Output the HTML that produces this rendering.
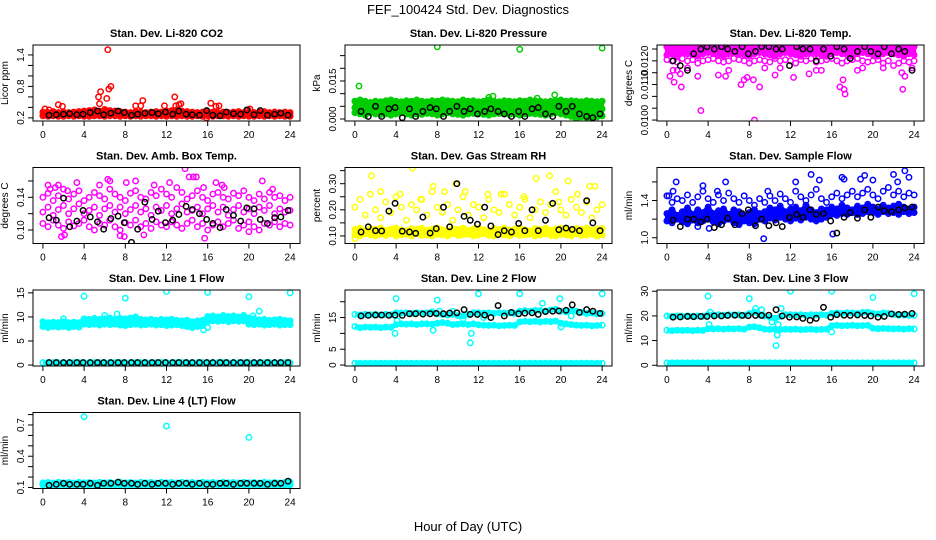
<!DOCTYPE html>
<html><head><meta charset="utf-8"><title>FEF_100424 Std. Dev. Diagnostics</title>
<style>
html,body{margin:0;padding:0;background:#fff;}
svg{display:block;font-family:"Liberation Sans",Arial,sans-serif;}
</style></head>
<body>
<svg id="chart" width="936" height="540" viewBox="0 0 936 540" xmlns="http://www.w3.org/2000/svg">
<rect x="0" y="0" width="936" height="540" fill="#fff"/>
<text x="468" y="14" font-size="13" text-anchor="middle">FEF_100424  Std. Dev. Diagnostics</text>
<text x="468" y="531" font-size="13" text-anchor="middle">Hour of Day (UTC)</text>
<g id="plots"></g>
</svg>
<script>
// ---------- shared ----------
const xTicks = [0,4,8,12,16,20,24];
const blackHours = [0.6,1.3,2.0,2.6,3.3,3.9,4.6,5.3,5.9,6.6,7.3,7.9,8.6,9.2,9.9,10.6,11.2,11.9,12.6,13.2,13.9,14.5,15.2,15.9,16.5,17.2,17.8,18.5,19.2,19.8,20.5,21.1,21.8,22.5,23.1,23.8];

// ---------- CO2 ----------
const co2Lo = [0.24,0.23,0.24,0.23,0.23,0.24,0.23,0.24,0.23,0.23,0.24,0.24,0.23,0.24,0.24,0.23,0.24,0.23,0.24,0.23,0.24,0.24,0.23,0.24,0.23,0.24,0.23,0.24,0.23,0.23,0.24,0.23,0.24,0.23,0.24,0.24,0.23,0.24,0.23,0.24,0.23,0.23,0.24,0.23,0.24,0.23,0.24,0.23,0.23];
const co2Hi = [0.31,0.30,0.32,0.30,0.31,0.30,0.31,0.32,0.33,0.34,0.35,0.33,0.36,0.34,0.33,0.32,0.31,0.30,0.32,0.31,0.30,0.31,0.32,0.31,0.33,0.34,0.35,0.33,0.32,0.31,0.30,0.31,0.32,0.31,0.30,0.31,0.30,0.31,0.32,0.30,0.31,0.30,0.31,0.32,0.30,0.31,0.30,0.31,0.30];
const co2OutH = [0.2,0.6,1.5,1.9,5.4,5.5,5.6,6.2,6.3,6.4,6.6,9.0,9.5,9.7,11.8,12.8,12.9,13.2,13.4,15.9,16.3,16.8,17.1,19.9,20.1];
const co2OutV = [0.37,0.35,0.45,0.42,0.60,0.47,0.70,0.57,1.50,0.75,0.80,0.43,0.43,0.53,0.43,0.60,0.43,0.45,0.47,0.20,0.48,0.42,0.43,0.35,0.37];
const co2Black = [0.25,0.26,0.27,0.28,0.26,0.27,0.30,0.33,0.26,0.29,0.33,0.30,0.25,0.27,0.29,0.30,0.28,0.31,0.27,0.33,0.27,0.26,0.25,0.34,0.25,0.24,0.31,0.28,0.27,0.35,0.26,0.34,0.25,0.27,0.29,0.25];
const co2Ticks = [0.2,0.4,0.6,0.8,1.0,1.2,1.4];
const co2Labels = ["0.2","","","0.8","","","1.4"];

// ---------- Pressure ----------
const prsLo = [0.0025,0.002,0.0015,0.0025,0.002,0.0018,0.002,0.0015,0.002,0.0025,0.002,0.0015,0.002,0.0018,0.0022,0.002,0.0015,0.002,0.0025,0.002,0.0018,0.0015,0.002,0.0022,0.002,0.0018,0.0015,0.002,0.0022,0.002,0.0018,0.002,0.0015,0.002,0.0022,0.002,0.0018,0.0015,0.002,0.0025,0.002,0.0015,0.001,0.0005,0.0008,0.0005,0.001,0.0008,0.0012];
const prsMid = [0.0045,0.005,0.0045,0.004,0.0048,0.0045,0.005,0.0042,0.0045,0.005,0.0048,0.0042,0.0045,0.005,0.0045,0.004,0.0048,0.0045,0.005,0.0045,0.0042,0.0045,0.0048,0.005,0.0045,0.004,0.0045,0.0048,0.0045,0.005,0.0042,0.0045,0.0048,0.0045,0.004,0.0045,0.005,0.0045,0.0042,0.0048,0.0045,0.0042,0.004,0.0038,0.0035,0.004,0.0038,0.0042,0.004];
const prsHi = [0.007,0.0075,0.007,0.0065,0.007,0.0068,0.0072,0.0075,0.007,0.0068,0.0072,0.007,0.0075,0.007,0.0068,0.0072,0.007,0.0075,0.0072,0.007,0.0068,0.0075,0.007,0.0072,0.0068,0.007,0.0075,0.007,0.0068,0.0072,0.007,0.0068,0.0072,0.007,0.0075,0.0072,0.007,0.0068,0.007,0.0072,0.0075,0.007,0.0072,0.007,0.0068,0.0072,0.007,0.0068,0.007];
const prsOutH = [0.4,8.0,13.0,16.0,19.4,24.0,22.5,21.5,23.0,17.7,13.4];
const prsOutV = [0.013,0.0285,0.0085,0.0275,0.0095,0.028,0.001,-0.0005,0.0005,0.0082,0.009];
const prsBlack = [0.003,0.001,0.005,0.001,0.004,0.0045,0.0005,0.004,0.001,0.003,0.0045,0.004,0.001,0.003,0.005,0.003,0.004,0.002,0.003,0.004,0.003,0.002,0.001,0.003,0.001,0.004,0.0045,0.002,0.001,0.005,0.003,0.005,0.002,0.001,0.0005,0.002];
const prsTicks = [0.000,0.005,0.010,0.015,0.020,0.025];
const prsLabels = ["0.000","","","0.015","",""];

// ---------- Li-820 Temp ----------
const tmpLo = [0.01255,0.0125,0.01245,0.0126,0.0125,0.01255,0.0124,0.0125,0.01255,0.0126,0.0125,0.01245,0.0125,0.0126,0.01255,0.0125,0.0124,0.0125,0.01255,0.0125,0.01245,0.0126,0.0125,0.01255,0.0125,0.0124,0.01255,0.0125,0.0126,0.01245,0.0125,0.01255,0.0126,0.0125,0.0124,0.0125,0.01255,0.0126,0.0125,0.01245,0.0125,0.01255,0.0124,0.0125,0.0123,0.0124,0.0125,0.01245,0.0125];
const tmpMid = [0.01275,0.0128,0.0127,0.01285,0.0128,0.01275,0.0127,0.0128,0.01285,0.0128,0.01275,0.0127,0.0128,0.01285,0.0128,0.01275,0.0127,0.0128,0.01285,0.0128,0.01275,0.0127,0.0128,0.01285,0.0128,0.01275,0.0127,0.0128,0.01285,0.0128,0.01275,0.0127,0.0128,0.01285,0.0128,0.01275,0.0127,0.0128,0.01285,0.0128,0.01275,0.0127,0.0128,0.01285,0.0128,0.01275,0.0127,0.0128,0.01275];
const tmpHi = [0.0131,0.01305,0.0131,0.0131,0.01305,0.0131,0.0131,0.01305,0.0131,0.0131,0.01305,0.0131,0.0131,0.01305,0.0131,0.0131,0.01305,0.0131,0.0131,0.01305,0.0131,0.0131,0.01305,0.0131,0.0131,0.01305,0.0131,0.0131,0.01305,0.0131,0.0131,0.01305,0.0131,0.0131,0.01305,0.0131,0.0131,0.01305,0.0131,0.0131,0.01305,0.0131,0.0131,0.01305,0.0131,0.0131,0.01305,0.0131,0.0131];
const tmpOutH = [0.3,0.6,0.7,1.0,1.3,1.4,3.3,3.0,5.0,5.7,7.2,7.5,7.8,8.5,8.4,9.0,9.5,10.5,12.3,13.8,14.5,16.8,17.1,17.3,17.2,18.5,21.0,22.8,22.9,23.1,23.8,2.0,6.0,11.0,15.0,19.0];
const tmpOutV = [0.01185,0.0121,0.0116,0.0121,0.01195,0.0114,0.0104,0.01185,0.0119,0.01185,0.0115,0.0117,0.0118,0.0100,0.0117,0.0114,0.0122,0.0119,0.0118,0.01195,0.0121,0.0114,0.0117,0.0111,0.0113,0.0121,0.0122,0.0120,0.0113,0.01185,0.0122,0.0122,0.0121,0.0122,0.0121,0.0122];
const tmpBlack = [0.0125,0.0123,0.0121,0.0128,0.0130,0.0131,0.0130,0.0131,0.0130,0.0129,0.0131,0.0128,0.0129,0.0131,0.0131,0.0130,0.0130,0.0123,0.0131,0.0130,0.0130,0.0125,0.0130,0.0127,0.0131,0.0130,0.0126,0.0129,0.0131,0.0129,0.0128,0.0131,0.0128,0.0130,0.0129,0.0121];
const tmpTicks = [0.0100,0.0105,0.0110,0.0115,0.0120,0.0125,0.0130];
const tmpLabels = ["0.0100","","","0.0110","","0.0120",""];

// ---------- Amb Box Temp ----------
const ambLo = [0.108,0.104,0.112,0.106,0.102,0.11,0.105,0.108,0.112,0.104,0.1,0.108,0.106,0.112,0.104,0.1,0.109,0.106,0.112,0.104,0.108,0.102,0.11,0.106,0.104,0.11,0.106,0.102,0.108,0.112,0.104,0.108,0.1,0.106,0.11,0.104,0.108,0.112,0.102,0.106,0.11,0.104,0.1,0.108,0.106,0.11,0.104,0.108,0.106];
const ambMid = [0.122,0.128,0.118,0.125,0.13,0.12,0.126,0.132,0.12,0.124,0.128,0.118,0.126,0.13,0.122,0.128,0.12,0.125,0.13,0.122,0.126,0.118,0.128,0.124,0.13,0.12,0.126,0.132,0.122,0.124,0.128,0.12,0.126,0.13,0.122,0.128,0.118,0.125,0.13,0.122,0.126,0.12,0.128,0.124,0.13,0.12,0.126,0.122,0.124];
const ambHi = [0.14,0.145,0.136,0.142,0.15,0.138,0.144,0.148,0.136,0.14,0.146,0.142,0.138,0.15,0.144,0.14,0.136,0.145,0.148,0.14,0.138,0.146,0.142,0.15,0.144,0.14,0.152,0.146,0.138,0.142,0.148,0.14,0.136,0.144,0.146,0.14,0.138,0.145,0.142,0.148,0.14,0.136,0.144,0.138,0.146,0.14,0.142,0.136,0.14];
const ambOutH = [0.5,0.7,1.2,1.5,2.4,3.3,5.5,6.3,6.5,8.1,9.0,10.8,12.3,13.8,14.2,14.6,14.9,15.6,16.8,17.4,17.6,21.3,22.3,1.8,2.1,7.5,7.9,9.8,15.7,20.0];
const ambOutV = [0.155,0.15,0.152,0.155,0.148,0.158,0.155,0.162,0.16,0.158,0.16,0.155,0.158,0.175,0.165,0.165,0.165,0.152,0.158,0.155,0.152,0.16,0.15,0.092,0.094,0.093,0.092,0.094,0.09,0.098];
const ambBlack = [0.115,0.112,0.139,0.104,0.111,0.124,0.116,0.11,0.101,0.114,0.117,0.109,0.085,0.101,0.134,0.113,0.123,0.109,0.112,0.119,0.129,0.125,0.12,0.113,0.108,0.103,0.125,0.118,0.111,0.127,0.126,0.113,0.108,0.115,0.116,0.124,0.113,0.123,0.122,0.109,0.124];
const ambTicks = [0.10,0.12,0.14,0.16];
const ambLabels = ["0.10","","0.14",""];

// ---------- Gas Stream RH ----------
const rhLo = [0.105,0.1,0.108,0.104,0.1,0.106,0.102,0.108,0.1,0.104,0.106,0.1,0.108,0.102,0.104,0.1,0.106,0.104,0.1,0.108,0.102,0.104,0.106,0.1,0.104,0.108,0.102,0.1,0.106,0.104,0.1,0.108,0.102,0.104,0.106,0.1,0.104,0.108,0.102,0.1,0.106,0.104,0.1,0.108,0.102,0.104,0.106,0.1,0.104];
const rhMid = [0.125,0.13,0.12,0.128,0.125,0.13,0.122,0.126,0.13,0.124,0.12,0.128,0.125,0.13,0.122,0.126,0.13,0.124,0.12,0.128,0.125,0.13,0.122,0.126,0.13,0.124,0.12,0.128,0.125,0.13,0.122,0.126,0.13,0.124,0.12,0.128,0.125,0.13,0.122,0.126,0.13,0.124,0.12,0.128,0.125,0.13,0.122,0.126,0.128];
const rhHi = [0.21,0.24,0.18,0.26,0.2,0.17,0.23,0.19,0.25,0.21,0.16,0.22,0.2,0.24,0.18,0.27,0.21,0.19,0.22,0.16,0.2,0.25,0.18,0.22,0.21,0.17,0.24,0.2,0.19,0.26,0.22,0.18,0.21,0.24,0.17,0.2,0.23,0.19,0.22,0.27,0.2,0.18,0.24,0.21,0.19,0.23,0.17,0.2,0.22];
const rhOutH = [1.6,5.6,9.8,14.2,17.6,20.7,22.8,18.9,0.0,2.5,4.4,7.6,8.7,10.7,12.9,16.4,19.8,21.6,23.3,6.4];
const rhOutV = [0.33,0.36,0.30,0.26,0.32,0.31,0.29,0.33,0.09,0.27,0.26,0.29,0.27,0.27,0.26,0.25,0.23,0.26,0.29,0.24];
const rhBlack = [0.115,0.135,0.12,0.119,0.195,0.225,0.118,0.115,0.11,0.172,0.111,0.128,0.21,0.135,0.3,0.175,0.16,0.145,0.21,0.138,0.105,0.12,0.115,0.148,0.12,0.2,0.12,0.16,0.225,0.124,0.13,0.125,0.12,0.235,0.15,0.12];
const rhTicks = [0.10,0.15,0.20,0.25,0.30,0.35];
const rhLabels = ["0.10","","0.20","","0.30",""];

// ---------- Sample Flow ----------
const sfLo = [1.18,1.16,1.2,1.17,1.15,1.19,1.16,1.18,1.2,1.17,1.15,1.18,1.2,1.16,1.14,1.18,1.16,1.15,1.2,1.18,1.21,1.19,1.22,1.2,1.18,1.21,1.19,1.22,1.2,1.18,1.2,1.22,1.25,1.24,1.26,1.25,1.27,1.25,1.26,1.28,1.27,1.25,1.28,1.26,1.27,1.25,1.28,1.26,1.27];
const sfMid = [1.26,1.3,1.24,1.28,1.32,1.25,1.3,1.27,1.33,1.26,1.29,1.31,1.25,1.3,1.28,1.24,1.27,1.3,1.26,1.28,1.32,1.3,1.34,1.28,1.31,1.33,1.29,1.35,1.3,1.27,1.31,1.3,1.33,1.31,1.35,1.32,1.3,1.34,1.32,1.36,1.33,1.31,1.35,1.32,1.34,1.36,1.33,1.31,1.33];
const sfHi = [1.45,1.38,1.42,1.4,1.46,1.38,1.44,1.5,1.42,1.38,1.46,1.4,1.48,1.42,1.38,1.45,1.4,1.35,1.42,1.38,1.45,1.4,1.47,1.42,1.38,1.5,1.44,1.4,1.46,1.52,1.42,1.38,1.44,1.48,1.42,1.46,1.5,1.44,1.48,1.52,1.46,1.42,1.5,1.54,1.46,1.5,1.44,1.48,1.46];
const sfOutH = [0.2,0.6,0.9,3.5,4.9,5.7,9.8,12.5,14.0,14.8,17.0,17.2,18.8,19.2,20.0,22.0,22.4,23.1,23.5,9.4,16.1,4.1,3.0];
const sfOutV = [1.45,1.5,1.6,1.56,1.5,1.6,1.5,1.6,1.68,1.62,1.65,1.63,1.63,1.67,1.62,1.68,1.6,1.72,1.65,0.99,1.04,1.1,1.12];
const sfBlack = [1.19,1.12,1.2,1.2,1.17,1.2,1.11,1.14,1.21,1.14,1.26,1.3,1.13,1.2,1.13,1.16,1.12,1.22,1.25,1.22,1.3,1.25,1.26,1.18,1.05,1.22,1.27,1.21,1.3,1.22,1.33,1.29,1.28,1.3,1.32,1.33];
const sfTicks = [1.0,1.2,1.4,1.6];
const sfLabels = ["1.0","","1.4",""];

// ---------- Line 1 Flow ----------
const l1Lo = [8.0,7.8,8.0,7.9,8.0,7.8,8.0,7.9,8.5,8.4,8.5,8.3,8.5,8.4,8.5,8.3,8.2,8.4,8.5,8.3,8.4,8.5,8.3,8.4,8.2,8.3,8.4,8.2,8.0,7.8,8.0,8.2,9.0,9.2,9.1,9.2,9.0,9.2,9.1,9.2,8.5,8.4,8.5,8.3,8.4,8.5,8.3,8.4,8.4];
const l1Hi = [9.0,8.8,8.9,8.8,9.0,8.8,8.9,8.8,9.6,9.5,9.7,9.5,9.6,9.8,9.5,9.7,9.6,9.8,10.0,9.5,9.4,9.5,9.3,9.5,9.4,9.5,9.3,9.2,9.3,9.0,9.2,9.3,10.1,10.2,10.0,10.3,10.1,10.2,10.0,10.3,9.8,9.6,9.4,9.5,9.3,9.4,9.5,9.3,9.2];
const l1Base = [0.5,0.5,0.5,0.5,0.5,0.5,0.5,0.5,0.5,0.5,0.5,0.5,0.5,0.5,0.5,0.5,0.5,0.5,0.5,0.5,0.5,0.5,0.5,0.5,0.5,0.5,0.5,0.5,0.5,0.5,0.5,0.5,0.5,0.5,0.5,0.5,0.5,0.5,0.5,0.5,0.5,0.5,0.5,0.5,0.5,0.5,0.5,0.5,0.5];
const l1OutH = [4.0,8.0,12.0,16.0,20.0,21.0,24.0,2.0,6.0,7.2,15.6,16.0,20.4];
const l1OutV = [14.3,13.9,15.3,15.1,14.2,11.2,15.0,9.6,10.3,10.6,7.3,7.8,10.2];
const l1Black = [0.5,0.5,0.5,0.5,0.5,0.5,0.5,0.5,0.5,0.5,0.5,0.5,0.5,0.5,0.5,0.5,0.5,0.5,0.5,0.5,0.5,0.5,0.5,0.5,0.5,0.5,0.5,0.5,0.5,0.5,0.5,0.5,0.5,0.5,0.5,0.5];
const l1Ticks = [0,5,10,15];
const l1Labels = ["0","5","10","15"];

// ---------- Line 2 Flow ----------
const l2Up = [16.0,15.8,16.0,15.9,16.0,15.8,16.0,15.9,16.5,16.4,16.5,16.3,16.5,16.4,16.5,16.8,16.2,16.0,15.8,16.0,15.6,15.5,16.0,16.5,16.5,16.4,16.5,16.3,16.5,16.4,16.5,16.3,17.0,17.2,17.0,17.3,17.2,17.0,17.4,17.6,17.0,16.8,17.2,17.0,16.6,16.3,16.4,16.2,16.3];
const l2Mid = [12.2,11.8,12.0,11.9,12.0,11.8,12.0,11.9,12.8,13.0,12.9,13.0,12.8,13.0,13.0,12.9,13.2,13.4,13.2,12.8,12.9,13.0,12.8,13.0,12.7,12.6,12.5,12.6,12.4,12.5,12.6,12.5,13.6,13.8,13.7,13.8,13.6,13.8,13.7,13.9,13.2,13.0,12.8,12.6,12.5,12.6,12.4,12.5,12.6];
const l2Base = [0.6,0.6,0.6,0.6,0.6,0.6,0.6,0.6,0.6,0.6,0.6,0.6,0.6,0.6,0.6,0.6,0.6,0.6,0.6,0.6,0.6,0.6,0.6,0.6,0.6,0.6,0.6,0.6,0.6,0.6,0.6,0.6,0.6,0.6,0.6,0.6,0.6,0.6,0.6,0.6,0.6,0.6,0.6,0.6,0.6,0.6,0.6,0.6,0.6];
const l2OutH = [4.0,8.0,8.2,12.0,16.0,19.9,24.0,11.3,11.2,9.5,3.9,7.6,12.5,18.2,4.1,10.5,21.0,20.0];
const l2OutV = [21.0,20.5,17.0,22.5,22.5,21.0,22.5,10.0,7.0,17.0,10.0,11.0,15.0,19.5,14.0,14.5,15.5,12.0];
const l2Black = [15.5,15.7,15.8,15.8,15.7,15.8,15.7,16.2,16.2,16.1,16.2,16.3,16.2,16.4,16.5,17.5,16.0,16.0,15.8,15.0,18.8,15.5,16.6,16.2,16.4,16.5,16.0,16.9,17.0,17.1,17.3,19.0,16.6,17.5,17.0,16.3];
const l2Ticks = [0,5,10,15,20];
const l2Labels = ["0","5","","15",""];

// ---------- Line 3 Flow ----------
const l3Up = [20.0,19.8,20.0,19.9,20.0,19.8,20.0,19.9,20.5,20.4,20.5,20.3,20.5,20.4,20.5,20.3,21.0,21.5,20.4,20.0,19.5,19.0,19.8,20.5,20.5,20.4,20.5,20.3,20.5,20.4,20.5,20.3,21.0,21.2,21.0,21.3,21.2,21.0,21.4,21.5,21.0,20.8,21.2,21.0,20.6,20.3,20.4,20.2,20.3];
const l3Mid = [14.2,14.0,14.2,14.1,14.2,14.0,14.2,14.1,14.8,14.7,14.8,14.6,14.8,14.7,14.8,14.6,15.5,15.6,15.2,14.6,14.5,14.6,14.4,14.6,14.5,14.6,14.4,14.5,14.6,14.4,14.5,14.6,16.0,16.2,16.0,16.1,16.2,16.0,16.1,16.2,15.0,14.8,14.9,14.8,14.7,14.8,14.6,14.8,14.7];
const l3Base = [1.0,1.0,1.0,1.0,1.0,1.0,1.0,1.0,1.0,1.0,1.0,1.0,1.0,1.0,1.0,1.0,1.0,1.0,1.0,1.0,1.0,1.0,1.0,1.0,1.0,1.0,1.0,1.0,1.0,1.0,1.0,1.0,1.0,1.0,1.0,1.0,1.0,1.0,1.0,1.0,1.0,1.0,1.0,1.0,1.0,1.0,1.0,1.0,1.0];
const l3OutH = [4.0,8.0,8.6,9.2,10.2,10.7,10.6,10.8,12.0,16.0,20.0,24.0,4.1,11.1,4.2,16.0];
const l3OutV = [28.0,27.0,23.0,22.5,17.5,12.2,8.0,16.5,30.0,30.0,27.5,29.0,16.5,23.0,21.5,13.5];
const l3Black = [19.5,19.6,19.8,19.7,19.8,19.8,20.0,20.0,20.2,20.3,20.2,20.1,20.2,20.2,20.3,22.5,20.0,19.5,19.6,19.0,18.2,19.0,23.5,19.5,20.5,20.3,20.2,20.4,20.2,20.0,19.5,19.8,20.8,20.6,20.7,21.0];
const l3Ticks = [0,10,20,30];
const l3Labels = ["0","10","20","30"];

// ---------- Line 4 Flow ----------
const l4Lo = [0.125,0.12,0.125,0.122,0.125,0.12,0.124,0.122,0.125,0.12,0.125,0.122,0.124,0.12,0.125,0.122,0.125,0.12,0.124,0.122,0.125,0.12,0.125,0.122,0.124,0.12,0.125,0.122,0.125,0.12,0.124,0.122,0.125,0.12,0.125,0.122,0.124,0.12,0.125,0.122,0.125,0.12,0.124,0.122,0.125,0.12,0.125,0.122,0.124];
const l4Hi = [0.145,0.148,0.142,0.15,0.145,0.148,0.142,0.15,0.145,0.148,0.142,0.15,0.145,0.148,0.142,0.15,0.145,0.148,0.142,0.15,0.145,0.148,0.142,0.15,0.145,0.148,0.142,0.15,0.145,0.148,0.142,0.15,0.145,0.148,0.142,0.15,0.145,0.148,0.142,0.15,0.145,0.148,0.142,0.15,0.145,0.148,0.142,0.15,0.152];
const l4OutH = [4.0,12.0,20.0];
const l4OutV = [0.78,0.69,0.58];
const l4Black = [0.12,0.13,0.14,0.13,0.13,0.13,0.14,0.12,0.14,0.14,0.15,0.14,0.14,0.13,0.14,0.13,0.14,0.14,0.13,0.14,0.14,0.13,0.14,0.13,0.13,0.14,0.14,0.13,0.14,0.14,0.14,0.14,0.13,0.14,0.14,0.16];
const l4Ticks = [0.1,0.2,0.3,0.4,0.5,0.6,0.7,0.8];
const l4Labels = ["0.1","","","0.4","","","0.7",""];

// ---------- layout ----------
const colLeft = [33,345,657];
const rowTop = [45,167.5,290,412.5];
const boxW = 267, boxH = 76;

const panels = [
 {name:'co2', title:'Stan. Dev. Li-820 CO2', ylab:'Licor ppm', col:0,row:0, ylim:[0.14,1.59], color:'#ff0000', bands:[co2Lo,co2Hi], fills:[[0,1]], lines:[], outH:co2OutH, outV:co2OutV, black:co2Black, ticks:co2Ticks, labels:co2Labels},
 {name:'pressure', title:'Stan. Dev. Li-820 Pressure', ylab:'kPa', col:1,row:0, ylim:[-0.0008,0.0292], color:'#00cd00', bands:[prsLo,prsMid,prsHi], fills:[[0,2]], lines:[], outH:prsOutH, outV:prsOutV, black:prsBlack, ticks:prsTicks, labels:prsLabels},
 {name:'li820-temp', title:'Stan. Dev. Li-820 Temp.', ylab:'degrees C', col:2,row:0, ylim:[0.00996,0.01317], color:'#ff00ff', bands:[tmpLo,tmpMid,tmpHi], fills:[[1,2]], lines:[], outH:tmpOutH, outV:tmpOutV, black:tmpBlack, ticks:tmpTicks, labels:tmpLabels},
 {name:'amb-box-temp', title:'Stan. Dev. Amb. Box Temp.', ylab:'degrees C', col:0,row:1, ylim:[0.0835,0.1765], color:'#ff00ff', bands:[ambLo,ambMid,ambHi], fills:[], lines:[], outH:ambOutH, outV:ambOutV, black:ambBlack, ticks:ambTicks, labels:ambLabels},
 {name:'gas-stream-rh', title:'Stan. Dev. Gas Stream RH', ylab:'percent', col:1,row:1, ylim:[0.071,0.362], color:'#ffff00', bands:[rhLo,rhMid,rhHi], fills:[[0,1]], lines:[], outH:rhOutH, outV:rhOutV, black:rhBlack, ticks:rhTicks, labels:rhLabels},
 {name:'sample-flow', title:'Stan. Dev. Sample Flow', ylab:'ml/min', col:2,row:1, ylim:[0.938,1.755], color:'#0000ff', bands:[sfLo,sfMid,sfHi], fills:[[0,1]], lines:[], outH:sfOutH, outV:sfOutV, black:sfBlack, ticks:sfTicks, labels:sfLabels},
 {name:'line1-flow', title:'Stan. Dev. Line 1 Flow', ylab:'ml/min', col:0,row:2, ylim:[-0.2,15.6], color:'#00ffff', bands:[l1Lo,l1Hi,l1Base], fills:[[0,1]], lines:[2], outH:l1OutH, outV:l1OutV, black:l1Black, ticks:l1Ticks, labels:l1Labels},
 {name:'line2-flow', title:'Stan. Dev. Line 2 Flow', ylab:'ml/min', col:1,row:2, ylim:[-0.3,23.7], color:'#00ffff', bands:[l2Up,l2Mid,l2Base], fills:[], lines:[0,1,2], outH:l2OutH, outV:l2OutV, black:l2Black, ticks:l2Ticks, labels:l2Labels},
 {name:'line3-flow', title:'Stan. Dev. Line 3 Flow', ylab:'ml/min', col:2,row:2, ylim:[-0.3,30.5], color:'#00ffff', bands:[l3Up,l3Mid,l3Base], fills:[], lines:[0,1,2], outH:l3OutH, outV:l3OutV, black:l3Black, ticks:l3Ticks, labels:l3Labels},
 {name:'line4-flow', title:'Stan. Dev. Line 4 (LT) Flow', ylab:'ml/min', col:0,row:3, ylim:[0.09,0.82], color:'#00ffff', bands:[l4Lo,l4Hi], fills:[[0,1]], lines:[], outH:l4OutH, outV:l4OutV, black:l4Black, ticks:l4Ticks, labels:l4Labels}
];

const NS = 'http://www.w3.org/2000/svg';
const root = document.getElementById('plots');
function mk(tag, attrs, parent){
  const e = document.createElementNS(NS, tag);
  for (const k in attrs) e.setAttribute(k, attrs[k]);
  parent.appendChild(e);
  return e;
}

panels.forEach(p => {
  const L = colLeft[p.col], T = rowTop[p.row];
  const g = mk('g', {}, root);
  
  
  const xs = h => L + (h + 0.96) / 25.92 * boxW;
  const ys = v => T + boxH - (v - p.ylim[0]) / (p.ylim[1] - p.ylim[0]) * boxH;
  const bx = (arr, i) => xs(i * 24 / (arr.length - 1));
  const clipId = 'clip-' + p.name;
  const cp = mk('clipPath', {id: clipId}, g);
  mk('rect', {x: L, y: T, width: boxW, height: boxH}, cp);

  const t = mk('text', {x: L + boxW/2, y: T - 8, 'font-size': 11, 'font-weight': 'bold', 'text-anchor': 'middle'}, g);
  t.textContent = p.title;
  
  

  const yl = mk('text', {x: 0, y: 0, 'font-size': 10, 'text-anchor': 'middle', transform: `translate(${L-25},${T+boxH/2}) rotate(-90)`}, g);
  yl.textContent = p.ylab;
  
  

  const pts = mk('g', {'clip-path': `url(#${clipId})`, fill: 'none', 'stroke-width': 1.5}, g);
  
  

  // dense band areas
  p.fills.forEach(([a, b]) => {
    const A = p.bands[a], B = p.bands[b];
    let d = A.map((v, i) => (i ? 'L' : 'M') + bx(A, i).toFixed(1) + ',' + ys(v).toFixed(1)).join(' ');
    for (let i = B.length - 1; i >= 0; i--) d += ' L' + bx(B, i).toFixed(1) + ',' + ys(B[i]).toFixed(1);
    const f = mk('path', {d: d + ' Z', fill: p.color, stroke: p.color, 'stroke-width': 4}, pts);
    
    
  });
  p.lines.forEach(k => {
    const A = p.bands[k];
    const d = A.map((v, i) => (i ? 'L' : 'M') + bx(A, i).toFixed(1) + ',' + ys(v).toFixed(1)).join(' ');
    const f = mk('path', {d: d, fill: 'none', stroke: p.color, 'stroke-width': 5, 'stroke-linejoin': 'round'}, pts);
    
    
  });

  p.bands.forEach(arr => {
    arr.forEach((v, i) => {
      const c = mk('circle', {cx: bx(arr, i), cy: ys(v), r: 2.7, stroke: p.color}, pts);
      
      
    });
  });
  p.outH.forEach((h, i) => {
    const c = mk('circle', {cx: xs(h), cy: ys(p.outV[i]), r: 2.7, stroke: p.color}, pts);
    
    
  });
  p.black.forEach((v, i) => {
    const c = mk('circle', {cx: xs(blackHours[i]), cy: ys(v), r: 2.7, stroke: '#000'}, pts);
    
    
  });

  const box = mk('rect', {x: L, y: T, width: boxW, height: boxH, fill: 'none', stroke: '#000', 'stroke-width': 1}, g);
  
  

  const xa = mk('g', {stroke: '#000', 'stroke-width': 1}, g);
  
  
  mk('line', {x1: xs(xTicks[0]), x2: xs(xTicks[xTicks.length-1]), y1: T+boxH, y2: T+boxH}, xa);
  xTicks.forEach(tk => {
    mk('line', {x1: xs(tk), x2: xs(tk), y1: T+boxH, y2: T+boxH+5}, xa);
    const tl = mk('text', {x: xs(tk), y: T+boxH+17, 'font-size': 10, 'text-anchor': 'middle', stroke: 'none', fill: '#000'}, xa);
    tl.textContent = String(tk);
    
    
  });

  const ya = mk('g', {stroke: '#000', 'stroke-width': 1}, g);
  
  
  mk('line', {x1: L, x2: L, y1: ys(p.ticks[0]), y2: ys(p.ticks[p.ticks.length-1])}, ya);
  p.ticks.forEach((tk, i) => {
    const y = ys(tk);
    mk('line', {x1: L-5, x2: L, y1: y, y2: y}, ya);
    if (p.labels[i]) {
      const tl = mk('text', {x: 0, y: 0, 'font-size': 10, 'text-anchor': 'middle', stroke: 'none', fill: '#000', transform: `translate(${L-9},${y}) rotate(-90)`}, ya);
      tl.textContent = p.labels[i];
      
      
    }
  });
});
</script>
</body></html>
